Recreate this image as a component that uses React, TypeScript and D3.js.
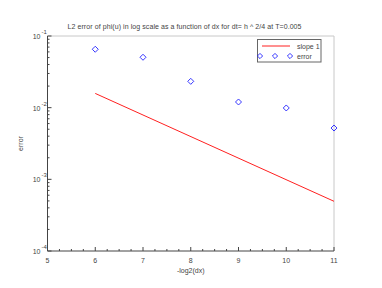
import { useEffect, useRef } from "react";
import * as d3 from "d3";

const xs = [6, 7, 8, 9, 10, 11];
const errors = [0.0653, 0.0505, 0.0233, 0.012, 0.0099, 0.0052];
const slopeX = [6, 11];
const slopeY = [0.0158, 0.000494];
const xTicks = [5, 6, 7, 8, 9, 10, 11];
const yExps = [-1, -2, -3, -4];

const title = "L2 error of phi(u) in log scale as a function of dx for dt= h ^ 2/4 at T=0.005";

const App = () => {
  const svgRef = useRef<SVGSVGElement | null>(null);

  useEffect(() => {
    const w = 382;
    const h = 288;
    const left = 47.5;
    const right = 334;
    const top = 36;
    const bottom = 251;
    const font = "Liberation Sans, Arial, sans-serif";
    const txt = "#444";

    const svg = d3.select(svgRef.current);
    svg.selectAll("*").remove();
    svg.attr("width", w).attr("height", h).style("background", "#fff");

    const x = d3.scaleLinear().domain([5, 11]).range([left, right]);
    const y = d3.scaleLog().domain([1e-4, 1e-1]).range([bottom, top]);

    // frame (top/right light)
    svg.append("line").attr("x1", left).attr("x2", right).attr("y1", top).attr("y2", top)
      .attr("stroke", "#c8c8c8");
    svg.append("line").attr("x1", right).attr("x2", right).attr("y1", top).attr("y2", bottom)
      .attr("stroke", "#c8c8c8");

    // x axis
    const xMinor = d3.range(5, 11.001, 0.25);
    const gx = svg.append("g");
    gx.selectAll("line.minor").data(xMinor).join("line")
      .attr("x1", (d) => x(d)).attr("x2", (d) => x(d))
      .attr("y1", bottom).attr("y2", (d) => (Number.isInteger(d) ? bottom - 4 : bottom - 2))
      .attr("stroke", "#444");
    gx.append("line").attr("x1", left).attr("x2", right).attr("y1", bottom).attr("y2", bottom)
      .attr("stroke", "#444");
    gx.selectAll("text").data(xTicks).join("text")
      .attr("x", (d) => x(d)).attr("y", bottom + 12)
      .attr("text-anchor", "middle").attr("font-family", font).attr("font-size", 7)
      .attr("fill", txt).text((d) => d);

    // y axis
    const yMinor: number[] = [];
    yExps.slice(1).forEach((e) => {
      for (let k = 2; k <= 9; k++) yMinor.push(k * Math.pow(10, e));
    });
    const gy = svg.append("g");
    gy.append("line").attr("x1", left).attr("x2", left).attr("y1", top).attr("y2", bottom)
      .attr("stroke", "#444");
    gy.selectAll("line.minor").data(yMinor).join("line")
      .attr("x1", left).attr("x2", left + 2)
      .attr("y1", (d) => y(d)).attr("y2", (d) => y(d)).attr("stroke", "#444");
    gy.selectAll("line.major").data(yExps).join("line")
      .attr("x1", left).attr("x2", left + 4)
      .attr("y1", (d) => y(Math.pow(10, d))).attr("y2", (d) => y(Math.pow(10, d)))
      .attr("stroke", "#444");
    const lab = gy.selectAll("g.lab").data(yExps).join("g")
      .attr("transform", (d) => `translate(${left - 7},${y(Math.pow(10, d)) + 3})`);
    lab.append("text").attr("text-anchor", "end").attr("font-family", font)
      .attr("font-size", 7).attr("fill", txt).text("10");
    lab.append("text").attr("x", 1).attr("y", -5).attr("font-family", font)
      .attr("font-size", 6).attr("fill", txt).text((d) => String(d));

    // labels
    svg.append("text").attr("x", 67.5).attr("y", 29)
      .attr("textLength", 234).attr("lengthAdjust", "spacing")
      .attr("font-family", font).attr("font-size", 7)
      .attr("fill", txt).text(title);
    svg.append("text").attr("x", (left + right) / 2).attr("y", 273)
      .attr("text-anchor", "middle").attr("font-family", font).attr("font-size", 7)
      .attr("fill", txt).text("-log2(dx)");
    svg.append("text").attr("transform", `translate(23,${(top + bottom) / 2}) rotate(-90)`)
      .attr("text-anchor", "middle").attr("font-family", font).attr("font-size", 7)
      .attr("fill", txt).text("error");

    // slope line
    const line = d3.line<number>().x((d) => x(slopeX[d])).y((d) => y(slopeY[d]));
    svg.append("path").attr("d", line([0, 1])).attr("fill", "none")
      .attr("stroke", "#ff2020").attr("stroke-width", 1);

    // diamonds
    const diamond = (cx: number, cy: number, r: number) =>
      `M${cx},${cy - r}L${cx + r},${cy}L${cx},${cy + r}L${cx - r},${cy}Z`;
    svg.append("g").selectAll("path").data(xs).join("path")
      .attr("d", (d, i) => diamond(x(d), y(errors[i]), 3))
      .attr("fill", "none").attr("stroke", "#2020ff").attr("stroke-width", 0.9);

    // legend
    const lg = svg.append("g");
    lg.append("rect").attr("x", 257.5).attr("y", 39.5).attr("width", 63.5).attr("height", 22.5)
      .attr("fill", "#fff").attr("stroke", "#666");
    lg.append("line").attr("x1", 262).attr("x2", 290).attr("y1", 46).attr("y2", 46)
      .attr("stroke", "#ff2020");
    lg.append("text").attr("x", 297).attr("y", 49).attr("font-family", font).attr("font-size", 7)
      .attr("fill", txt).text("slope 1");
    [260, 275, 290].forEach((cx) => {
      lg.append("path").attr("d", diamond(cx, 56, 2.6)).attr("fill", "none")
        .attr("stroke", "#2020ff").attr("stroke-width", 0.9);
    });
    lg.append("text").attr("x", 297).attr("y", 58.5).attr("font-family", font).attr("font-size", 7)
      .attr("fill", txt).text("error");
  }, []);

  return (
    <svg ref={svgRef} style={{ position: "absolute", left: 0, top: 0 }}></svg>
  );
};

export default App;
